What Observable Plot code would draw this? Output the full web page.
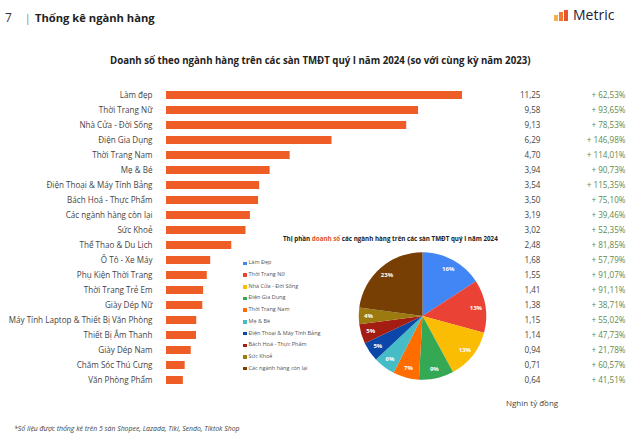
<!DOCTYPE html>
<html><head><meta charset="utf-8">
<script src="https://cdn.jsdelivr.net/npm/d3@7"></script>
<script src="https://cdn.jsdelivr.net/npm/@observablehq/plot@0.6"></script>
<style>
html,body{margin:0;padding:0;background:#fff;overflow:hidden}
#wrap{position:relative;width:640px;height:441px;font-family:"Open Sans",sans-serif}
#wrap svg{position:absolute;left:0;top:0}
.t{position:absolute;white-space:nowrap;line-height:1}
</style></head><body>
<div id="wrap"></div>
<script>
const categories = ["Làm đẹp","Thời Trang Nữ","Nhà Cửa - Đời Sống","Điện Gia Dụng","Thời Trang Nam","Mẹ & Bé","Điện Thoại & Máy Tính Bảng","Bách Hoá - Thực Phẩm","Các ngành hàng còn lại","Sức Khoẻ","Thể Thao & Du Lịch","Ô Tô - Xe Máy","Phụ Kiện Thời Trang","Thời Trang Trẻ Em","Giày Dép Nữ","Máy Tính Laptop & Thiết Bị Văn Phòng","Thiết Bị Âm Thanh","Giày Dép Nam","Chăm Sóc Thú Cưng","Văn Phòng Phẩm"];
const sales = [11.25,9.58,9.13,6.29,4.70,3.94,3.54,3.50,3.19,3.02,2.48,1.68,1.55,1.41,1.38,1.15,1.14,0.94,0.71,0.64];
const growth = ["+ 62,53%","+ 93,65%","+ 78,53%","+ 146,98%","+ 114,01%","+ 90,73%","+ 115,35%","+ 75,10%","+ 39,46%","+ 52,35%","+ 81,85%","+ 57,79%","+ 91,07%","+ 91,11%","+ 38,71%","+ 55,02%","+ 47,73%","+ 21,78%","+ 60,57%","+ 41,51%"];
const pieNames = ["Làm Đẹp","Thời Trang Nữ","Nhà Cửa - Đời Sống","Điện Gia Dụng","Thời Trang Nam","Mẹ & Bé","Điện Thoại & Máy Tính Bảng","Bách Hoá - Thực Phẩm","Sức Khoẻ","Các ngành hàng còn lại"];
const pieValues = [16,13,13,9,7,6,5,5,4,23];
const pieShares = [11.25,9.58,9.13,6.29,4.70,3.94,3.54,3.50,3.02,16.27];
const pieColors = ["#4285f4","#ea4335","#fbbc04","#34a853","#ff6d01","#46bdc6","#0b47a8","#a31d12","#9c7a0f","#783f04"];
const rows = categories.map((c,i)=>({c,v:sales[i],g:growth[i]}));
const fmt = v => v.toFixed(2).replace(".",",");

function pieMark(index, scales, values, dims){
  const g = d3.create("svg:g").attr("transform","translate(422.5,316)");
  const R = 63.8;
  const arcs = d3.pie().sort(null)(pieShares);
  const arc = d3.arc().innerRadius(0).outerRadius(R);
  const lab = d3.arc().innerRadius(54).outerRadius(54);
  g.selectAll("path").data(arcs).join("path").attr("d",arc).attr("fill",(d,i)=>pieColors[i]);
  g.selectAll("text").data(arcs).join("text")
    .attr("transform",d=>`translate(${lab.centroid(d)})`)
    .attr("text-anchor","middle").attr("dy","0.35em")
    .attr("fill","#fff").attr("font-weight",700).attr("font-size",6)
    .text((d,i)=>pieValues[i]+"%");
  return g.node();
}

const chart = Plot.plot({
  width:640,height:441,
  marginLeft:166,marginRight:178,marginTop:77.3,marginBottom:42.9,
  style:{fontFamily:'"Open Sans",sans-serif',background:"transparent"},
  x:{domain:[0,11.25],axis:null},
  y:{domain:categories,padding:0.5,label:null},
  marks:[
    Plot.axisY({tickSize:0,tickPadding:14,label:null,fontSize:8.1,color:"#444",textOverflow:null,lineWidth:99}),
    Plot.barX(rows,{x:"v",y:"c",fill:"#ef5d27"}),
    Plot.text(rows,{y:"c",text:d=>fmt(d.v),frameAnchor:"right",textAnchor:"end",dx:78,fontSize:8.1,fill:"#444"}),
    Plot.text(rows,{y:"c",text:"g",frameAnchor:"right",textAnchor:"end",dx:163,fontSize:8.1,fill:"#5c8a4e"}),
    pieMark
  ]
});
const wrap = document.getElementById("wrap");
wrap.appendChild(chart);

function t(html,css){const d=document.createElement("div");d.className="t";d.innerHTML=html;d.style.cssText=css;wrap.appendChild(d);}
t("7","left:5px;top:12px;font-size:12px;color:#333");
t("|","left:25px;top:13px;font-size:10px;color:#777");
t("Thống kê ngành hàng","left:35px;top:12px;font-size:11.2px;font-weight:700;color:#222");
t("Metric","left:573px;top:8px;font-size:14px;color:#223");
[[554,4,6,"#f2b04e"],[559,4,9,"#ef7a35"],[564,4,11,"#e8532b"]].forEach(([l,w,h,c])=>{
  t("",`left:${l}px;top:${21-h}px;width:${w}px;height:${h}px;background:${c}`);
});
t("Doanh số theo ngành hàng trên các sàn TMĐT quý I năm 2024 (so với cùng kỳ năm 2023)","left:110px;top:55.5px;font-size:9.67px;font-weight:700;color:#222");
t('Thị phần <span style="color:#e0562a">doanh số</span> các ngành hàng trên các sàn TMĐT quý I năm 2024',"left:283px;top:236px;font-size:6.26px;font-weight:700;color:#222");
pieNames.forEach((n,i)=>{
  const y=263.3+i*11.7;
  t("",`left:243px;top:${y-1.7}px;width:3.5px;height:3.5px;background:${pieColors[i]}`);
  t(n,`left:248.5px;top:${y-3}px;font-size:5.5px;color:#555`);
});
t("Nghìn tỷ đồng","left:506px;top:399px;font-size:8px;color:#444");
t("*Số liệu được thống kê trên 5 sàn Shopee, Lazada, Tiki, Sendo, Tiktok Shop","left:14px;top:425.5px;font-size:6.9px;font-style:italic;color:#444");
</script>
</body></html>
